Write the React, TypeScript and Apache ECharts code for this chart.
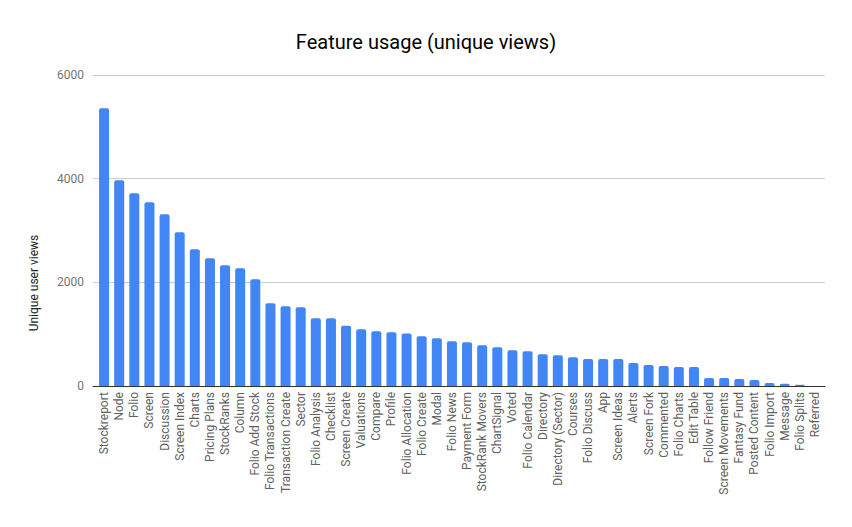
import { useEffect, useRef } from "react";
import * as echarts from "echarts";

const features = [
  "Stockreport", "Node", "Folio", "Screen", "Discussion", "Screen Index", "Charts",
  "Pricing Plans", "StockRanks", "Column", "Folio Add Stock", "Folio Transactions",
  "Transaction Create", "Sector", "Folio Analysis", "Checklist", "Screen Create",
  "Valuations", "Compare", "Profile", "Folio Allocation", "Folio Create", "Modal",
  "Folio News", "Payment Form", "StockRank Movers", "ChartSignal", "Voted",
  "Folio Calendar", "Directory", "Directory (Sector)", "Courses", "Folio Discuss",
  "App", "Screen Ideas", "Alerts", "Screen Fork", "Commented", "Folio Charts",
  "Edit Table", "Follow Friend", "Screen Movements", "Fantasy Fund",
  "Posted Content", "Folio Import", "Message", "Folio Splits", "Referred",
];

const uniqueViews = [
  5360, 3970, 3720, 3545, 3315, 2965, 2640, 2465, 2330, 2270, 2060, 1595,
  1540, 1520, 1305, 1305, 1160, 1095, 1055, 1035, 1015, 960, 920, 862,
  843, 785, 746, 690, 670, 612, 592, 556, 521, 521, 521, 444, 405, 386,
  367, 367, 154, 154, 135, 116, 58, 42, 22, 0,
];

const yTicks = [0, 2000, 4000, 6000];

export default function App() {
  const chartRef = useRef<HTMLDivElement>(null);

  useEffect(() => {
    if (!chartRef.current) return;
    const chart = echarts.init(chartRef.current, undefined, { renderer: "svg" });

    const yMin = yTicks[0];
    const yMax = yTicks[yTicks.length - 1];

    const option: echarts.EChartsOption = {
      animation: false,
      backgroundColor: "#ffffff",
      textStyle: { fontFamily: "Roboto" },
      title: {
        text: "Feature usage (unique views)",
        left: "center",
        top: 27,
        textStyle: {
          fontFamily: "Roboto",
          fontSize: 20,
          fontWeight: "normal",
          color: "#000000",
        },
      },
      // grid 0 holds the bars, grid 1 the slightly wider frame (gridlines + baseline)
      grid: [
        { left: 96.5, right: 29.5, top: 75, bottom: 141 },
        { left: 93, right: 27, top: 75, bottom: 141 },
      ],
      xAxis: [
        {
          type: "category",
          gridIndex: 0,
          data: features,
          axisLine: { show: false },
          axisTick: { show: false },
          axisLabel: {
            rotate: 90,
            interval: 0,
            fontSize: 12,
            color: "#616161",
            margin: 6,
          },
        },
        {
          type: "value",
          gridIndex: 1,
          min: 0,
          max: 1,
          axisLine: { show: true, lineStyle: { color: "#333333", width: 1 } },
          axisTick: { show: false },
          axisLabel: { show: false },
          splitLine: { show: false },
          z: 5,
        },
      ],
      yAxis: [
        {
          type: "value",
          gridIndex: 0,
          min: yMin,
          max: yMax,
          interval: 2000,
          show: false,
          splitLine: { show: false },
        },
        {
          type: "value",
          gridIndex: 1,
          min: yMin,
          max: yMax,
          interval: 2000,
          axisLine: { show: false },
          axisTick: { show: false },
          splitLine: { lineStyle: { color: "#cccccc" } },
          axisLabel: {
            fontSize: 12,
            color: "#757575",
            margin: 9,
            formatter: (v: number) => String(v),
          },
        },
      ],
      graphic: [
        {
          type: "text",
          x: 34,
          y: 283,
          rotation: Math.PI / 2,
          style: {
            text: "Unique user views",
            fontFamily: "Roboto",
            fontSize: 12,
            fontWeight: "normal",
            fill: "#222222",
            align: "center",
            verticalAlign: "middle",
          },
        },
      ],
      series: [
        {
          type: "bar",
          xAxisIndex: 0,
          yAxisIndex: 0,
          data: uniqueViews,
          barWidth: 10,
          itemStyle: { color: "#4285f4", borderRadius: [2, 2, 0, 0] },
        },
      ],
    };

    chart.setOption(option);
    return () => {
      chart.dispose();
    };
  }, []);

  return (
    <div
      ref={chartRef}
      style={{ position: "fixed", left: 0, top: 0, width: 852, height: 527 }}
    />
  );
}
